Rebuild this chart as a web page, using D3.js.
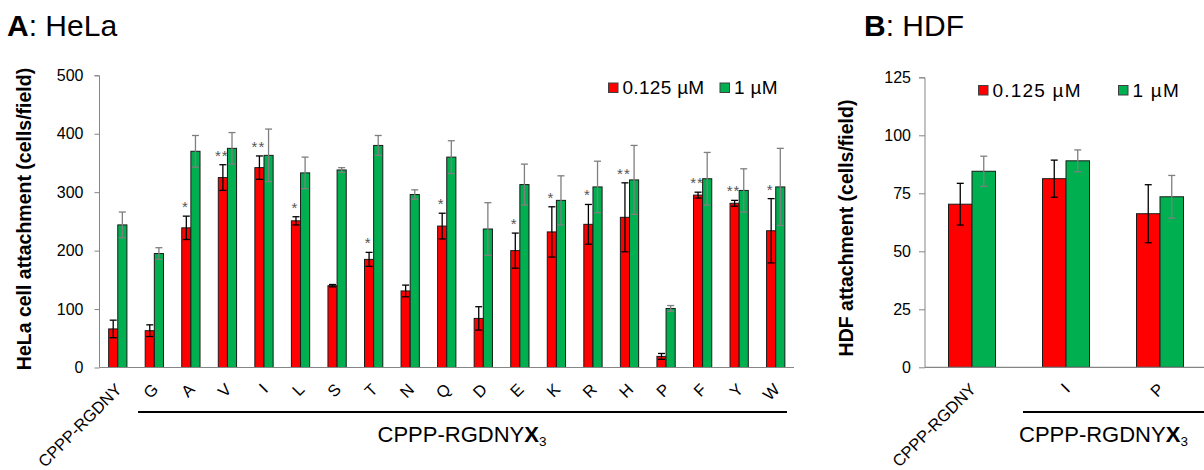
<!DOCTYPE html>
<html>
<head>
<meta charset="utf-8">
<script src="https://cdn.jsdelivr.net/npm/d3@7"></script>
<style>
  body { margin: 0; background: #fff; }
  svg { display: block; font-family: "Liberation Sans", Arial, sans-serif; }
</style>
</head>
<body>
<svg id="chart" width="1204" height="470"></svg>
<script>
// panel A: HeLa
const helaLabels = ['CPPP-RGDNY', 'G', 'A', 'V', 'I', 'L', 'S', 'T', 'N', 'Q', 'D', 'E', 'K', 'R', 'H', 'P', 'F', 'Y', 'W'];
const helaLow = [66, 63, 239, 325, 342, 251, 140, 185, 131, 242, 84, 200, 232, 245, 257, 19, 295, 281, 234];
const helaLowErr = [15, 10, 20, 22, 20, 7, 2, 12, 10, 22, 20, 30, 43, 34, 59, 5, 5, 5, 55];
const helaHigh = [244, 195, 370, 375, 363, 333, 338, 380, 296, 360, 237, 313, 286, 309, 321, 101, 323, 303, 309];
const helaHighErr = [22, 10, 27, 27, 45, 27, 4, 17, 8, 28, 45, 35, 42, 44, 59, 5, 45, 37, 66];
const helaSig = ['', '', '*', '**', '**', '*', '', '*', '', '*', '', '*', '*', '*', '**', '', '**', '**', '*'];
const helaTicks = [0, 100, 200, 300, 400, 500];

// panel B: HDF
const hdfLabels = ['CPPP-RGDNY', 'I', 'P'];
const hdfLow = [70.3, 81.3, 66.2];
const hdfLowErr = [9, 8, 12.5];
const hdfHigh = [84.5, 89, 73.5];
const hdfHighErr = [6.5, 4.7, 9.2];
const hdfTicks = [0, 25, 50, 75, 100, 125];

const seriesNames = ['0.125 \u00b5M', '1 \u00b5M'];
const colors = ['#ff0000', '#00b050'];
const errColors = ['#000', '#7f7f7f'];

const svg = d3.select('#chart');

function drawPanel(p) {
    const g = svg.append('g');

    const x = d3.scaleBand()
        .domain(p.labels)
        .range([p.x0, p.x1])
        .paddingInner(0)
        .paddingOuter(0);

    const y = d3.scaleLinear()
        .domain([0, p.max])
        .range([p.y0, p.y1]);

    const bw = x.bandwidth() / 4;

    // bars, one group per series
    const series = [
        {vals: p.low, errs: p.low_err, off: 1},
        {vals: p.high, errs: p.high_err, off: 2}
    ];

    series.forEach((s, si) => {
        const rows = p.labels.map((l, i) => ({l, v: s.vals[i], e: s.errs[i]}));
        const cx = d => x(d.l) + bw * (s.off + 0.5);

        g.selectAll(null).data(rows).enter().append('rect')
            .attr('x', d => x(d.l) + bw * s.off)
            .attr('y', d => y(d.v))
            .attr('width', bw)
            .attr('height', d => y(0) - y(d.v))
            .attr('fill', colors[si])
            .attr('stroke', '#1a1a1a')
            .attr('stroke-width', 1);

        const err = g.selectAll(null).data(rows).enter().append('g')
            .attr('stroke', errColors[si])
            .attr('stroke-width', 1.3);
        err.append('line')
            .attr('x1', cx).attr('x2', cx)
            .attr('y1', d => y(d.v - d.e)).attr('y2', d => y(d.v + d.e));
        err.append('line')
            .attr('x1', d => cx(d) - 3.5).attr('x2', d => cx(d) + 3.5)
            .attr('y1', d => y(d.v + d.e)).attr('y2', d => y(d.v + d.e));
        err.append('line')
            .attr('x1', d => cx(d) - 3.5).attr('x2', d => cx(d) + 3.5)
            .attr('y1', d => y(d.v - d.e)).attr('y2', d => y(d.v - d.e));
    });

    // significance stars above the 0.125 uM bars
    if (p.sig) {
        g.selectAll(null).data(p.labels).enter().append('text')
            .attr('x', (l) => x(l) + bw * 1.5 - 1)
            .attr('y', (l, i) => y(p.low[i] + p.low_err[i]) - 4)
            .attr('text-anchor', 'middle')
            .attr('font-size', 15)
            .attr('letter-spacing', 1)
            .attr('fill', '#555')
            .text((l, i) => p.sig[i]);
    }

    // axes
    const yAxis = d3.axisLeft(y)
        .tickValues(p.ticks)
        .tickSize(p.tickSize)
        .tickPadding(p.tickPad)
        .tickFormat(d3.format('d'));

    const ya = g.append('g')
        .attr('transform', `translate(${p.x0},0)`)
        .call(yAxis);
    ya.select('.domain').attr('stroke', '#868686').attr('d', `M${-p.tickSize},${p.y1 + 0.5}H0V${p.y0}`);
    ya.selectAll('.tick line').attr('stroke', '#868686');
    ya.selectAll('.tick text')
        .attr('font-size', 16)
        .attr('font-family', '"Liberation Sans", Arial, sans-serif')
        .attr('fill', '#000');

    g.append('line')
        .attr('x1', p.x0).attr('x2', p.xAxisEnd)
        .attr('y1', p.y0).attr('y2', p.y0)
        .attr('stroke', '#868686')
        .attr('stroke-width', 1.2);

    // rotated category labels
    g.selectAll(null).data(p.labels).enter().append('text')
        .attr('transform', l => `translate(${x(l) + x.bandwidth() / 2 + 5},${p.y0 + 23}) rotate(-45)`)
        .attr('text-anchor', 'end')
        .attr('font-size', 16.5)
        .text(l => l);

    // bracket line and its label
    const lx1 = x(p.labels[1]) + p.lineStart;
    const lx2 = p.lineEnd;
    g.append('line')
        .attr('x1', lx1).attr('x2', lx2)
        .attr('y1', 412).attr('y2', 412)
        .attr('stroke', '#000')
        .attr('stroke-width', 2.2);

    const lab = g.append('text')
        .attr('x', p.groupLabelX)
        .attr('y', 442)
        .attr('text-anchor', p.groupAnchor)
        .attr('font-size', 22);
    lab.append('tspan').text('CPPP-RGDNY');
    lab.append('tspan').attr('font-weight', 'bold').text('X');
    lab.append('tspan').attr('font-size', 13.5).attr('dy', 4).text('3');

    // y axis title
    g.append('text')
        .attr('transform', `translate(${p.yLabelX},${p.yLabelY}) rotate(-90)`)
        .attr('text-anchor', 'middle')
        .attr('font-size', 19.5)
        .attr('font-weight', 'bold')
        .text(p.yTitle);

    // panel title
    const t = g.append('text')
        .attr('x', p.titleX)
        .attr('y', 36)
        .attr('font-size', 30);
    t.append('tspan').attr('font-weight', 'bold').text(p.letter);
    t.append('tspan').text(': ' + p.name);

    // legend
    const lg = g.append('g');
    p.legend.forEach((lx, i) => {
        lg.append('rect')
            .attr('x', lx).attr('y', p.legendY)
            .attr('width', 9.5).attr('height', 9.5)
            .attr('fill', colors[i])
            .attr('stroke', '#404040')
            .attr('stroke-width', 1);
        lg.append('text')
            .attr('x', lx + 14).attr('y', p.legendY + 11)
            .attr('font-size', 19)
            .attr('letter-spacing', p.legendSpacing)
            .text(seriesNames[i]);
    });

    return x;
}

drawPanel({
    labels: helaLabels, low: helaLow, low_err: helaLowErr, high: helaHigh, high_err: helaHighErr,
    sig: helaSig, ticks: helaTicks, max: 500,
    x0: 99.5, x1: 794, xAxisEnd: 794, y0: 367.5, y1: 75.3,
    tickSize: 5, tickPad: 11,
    lineStart: 2, lineEnd: 787, groupLabelX: 462, groupAnchor: 'middle',
    yTitle: 'HeLa cell attachment (cells/field)', yLabelX: 31, yLabelY: 219,
    titleX: 7, letter: 'A', name: 'HeLa',
    legend: [608.5, 720], legendY: 83, legendSpacing: 0.3
});

drawPanel({
    labels: hdfLabels, low: hdfLow, low_err: hdfLowErr, high: hdfHigh, high_err: hdfHighErr,
    sig: null, ticks: hdfTicks, max: 125,
    x0: 925, x1: 1207, xAxisEnd: 1204, y0: 367.3, y1: 77.3,
    tickSize: 6, tickPad: 8,
    lineStart: 4, lineEnd: 1204, groupLabelX: 1019, groupAnchor: 'start',
    yTitle: 'HDF attachment (cells/field)', yLabelX: 853, yLabelY: 228,
    titleX: 864, letter: 'B', name: 'HDF',
    legend: [978.5, 1118.5], legendY: 85.5, legendSpacing: 1.2
});
</script>
</body>
</html>
